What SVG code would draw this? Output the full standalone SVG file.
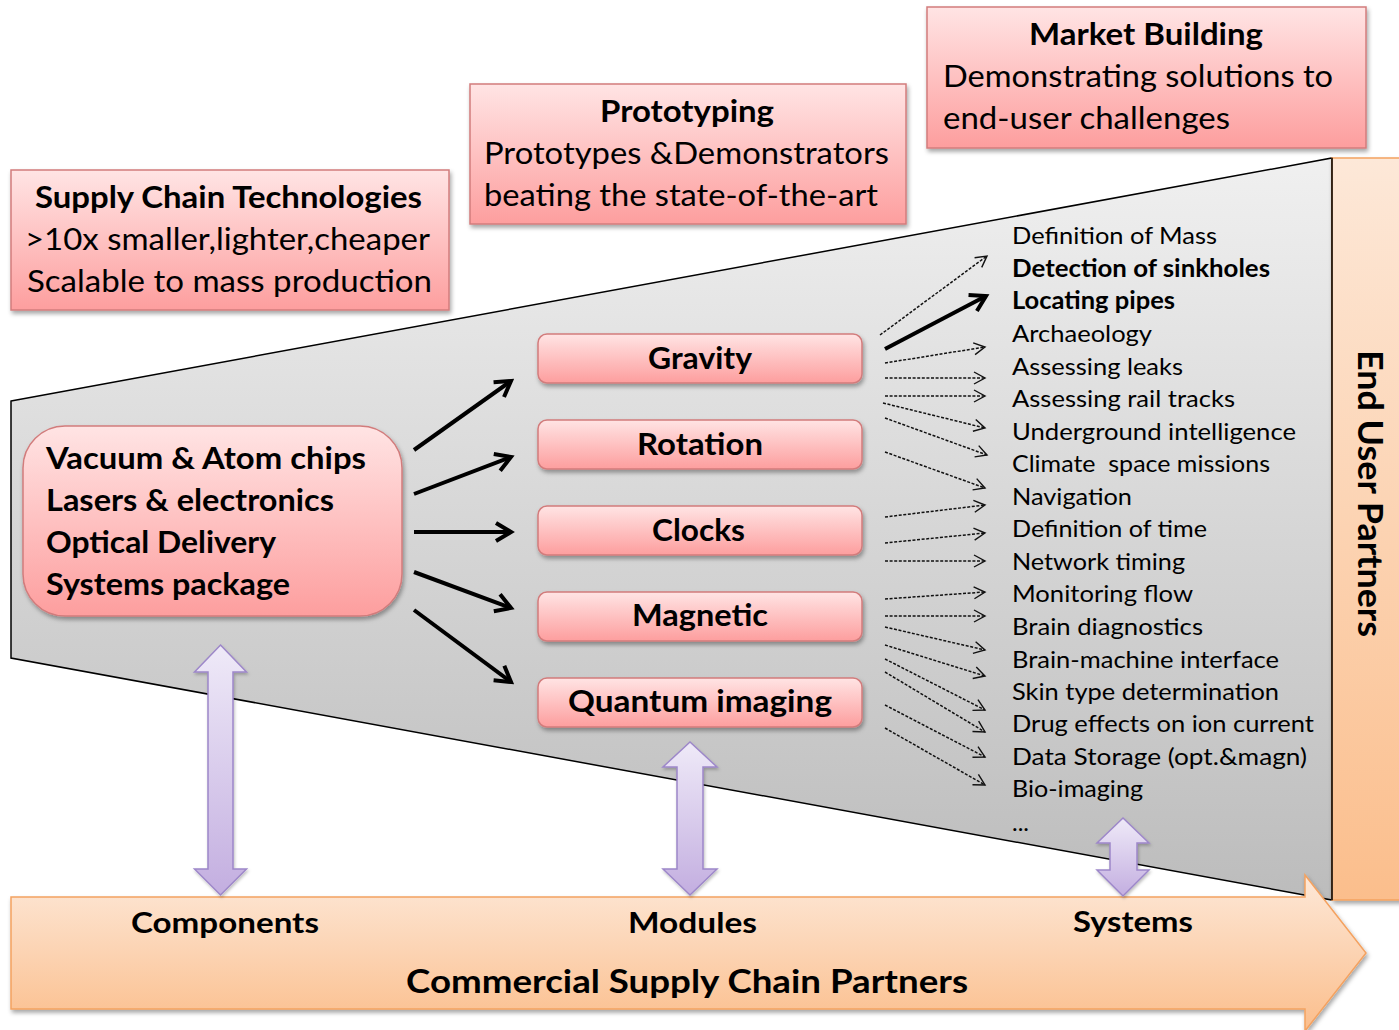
<svg xmlns="http://www.w3.org/2000/svg" width="1399" height="1030" viewBox="0 0 1399 1030">
<style>
text{font-family:Lato,"Liberation Sans",sans-serif;fill:#000}
.b{font-weight:bold}
.hd{font-size:31px}
.bx{font-size:31px;font-weight:bold}
.md{font-size:30px;font-weight:bold}
.li{font-size:24px}
.bt{font-size:28px;font-weight:bold}
.pink{fill:url(#gPink);stroke:#d27c7c;stroke-width:1.5;filter:url(#sh)}
.lav{fill:url(#gLav);stroke:#9d87c9;stroke-width:1.5;filter:url(#sh2)}
.sol{stroke:#000;stroke-width:4;fill:none;marker-end:url(#mSol)}
.dot{stroke:#111;stroke-width:1.5;stroke-dasharray:3 1.6;fill:none;marker-end:url(#mDot)}
</style>
<defs>
<linearGradient id="gGray" gradientUnits="userSpaceOnUse" x1="0" y1="158" x2="0" y2="900">
<stop offset="0" stop-color="#f0f0f0"/><stop offset="1" stop-color="#bcbcbc"/>
</linearGradient>
<linearGradient id="gPink" x1="0" y1="0" x2="0" y2="1">
<stop offset="0" stop-color="#ffe4e4"/><stop offset="1" stop-color="#fd9e9e"/>
</linearGradient>
<linearGradient id="gOr" x1="0" y1="0" x2="0" y2="1">
<stop offset="0" stop-color="#fde8d8"/><stop offset="1" stop-color="#fbbe8c"/>
</linearGradient>
<linearGradient id="gLav" x1="0" y1="0" x2="0" y2="1">
<stop offset="0" stop-color="#efeaf8"/><stop offset="1" stop-color="#c3aee0"/>
</linearGradient>
<filter id="sh" x="-10%" y="-10%" width="130%" height="140%">
<feDropShadow dx="1.5" dy="3" stdDeviation="2" flood-color="#000" flood-opacity="0.35"/>
</filter>
<filter id="sh2" x="-20%" y="-10%" width="150%" height="130%">
<feDropShadow dx="1" dy="2" stdDeviation="1.5" flood-color="#000" flood-opacity="0.25"/>
</filter>
<marker id="mSol" markerUnits="userSpaceOnUse" viewBox="-20 -12 24 24" markerWidth="24" markerHeight="24" refX="0" refY="0" orient="auto">
<path d="M-15,-9 L0,0 L-15,9" fill="none" stroke="#000" stroke-width="4" stroke-linejoin="miter"/>
</marker>
<marker id="mDot" markerUnits="userSpaceOnUse" viewBox="-14 -8 16 16" markerWidth="16" markerHeight="16" refX="0" refY="0" orient="auto">
<path d="M-11,-6 L0,0 L-11,6" fill="none" stroke="#111" stroke-width="1.4"/>
</marker>
</defs>

<g id="funnel">
<polygon points="11,401 1332,158 1332,900 11,658" fill="url(#gGray)" stroke="#000" stroke-width="1.5"/>
</g>

<g id="end-user-partners">
<rect x="1332" y="158" width="70" height="742" fill="url(#gOr)" stroke="#f4a260" stroke-width="1.5" filter="url(#sh)"/>
<line x1="1332" y1="158" x2="1332" y2="900" stroke="#000" stroke-width="1.5"/>
<text class="b" font-size="35" transform="translate(1358,350) rotate(90)" textLength="287" lengthAdjust="spacingAndGlyphs">End User Partners</text>
</g>

<g id="supply-chain-partners">
<path d="M11,897 L1305,897 L1305,875 L1366,953 L1305,1031 L1305,1009 L11,1009 Z" fill="url(#gOr)" stroke="#f4a260" stroke-width="1.5" filter="url(#sh)"/>
<text class="bt" x="131" y="933" textLength="188" lengthAdjust="spacingAndGlyphs">Components</text>
<text class="bt" x="628" y="933" textLength="129" lengthAdjust="spacingAndGlyphs">Modules</text>
<text class="bt" x="1073" y="932" textLength="120" lengthAdjust="spacingAndGlyphs">Systems</text>
<text class="b" font-size="33" x="406" y="993" textLength="562" lengthAdjust="spacingAndGlyphs">Commercial Supply Chain Partners</text>
</g>

<g id="supply-chain-tech">
<rect class="pink" x="11" y="170" width="438" height="140"/>
<text class="hd b" x="35" y="208" textLength="387" lengthAdjust="spacingAndGlyphs">Supply Chain Technologies</text>
<text class="hd" x="25" y="250" textLength="405" lengthAdjust="spacingAndGlyphs">&gt;10x smaller,lighter,cheaper</text>
<text class="hd" x="27" y="292" textLength="405" lengthAdjust="spacingAndGlyphs">Scalable to mass production</text>
</g>

<g id="prototyping">
<rect class="pink" x="470" y="84" width="436" height="140"/>
<text class="hd b" x="600" y="122" textLength="174" lengthAdjust="spacingAndGlyphs">Prototyping</text>
<text class="hd" x="484" y="164" textLength="405" lengthAdjust="spacingAndGlyphs">Prototypes &amp;Demonstrators</text>
<text class="hd" x="484" y="206" textLength="394" lengthAdjust="spacingAndGlyphs">beating the state-of-the-art</text>
</g>

<g id="market-building">
<rect class="pink" x="927" y="7" width="439" height="141"/>
<text class="hd b" x="1029" y="45" textLength="234" lengthAdjust="spacingAndGlyphs">Market Building</text>
<text class="hd" x="943" y="87" textLength="390" lengthAdjust="spacingAndGlyphs">Demonstrating solutions to</text>
<text class="hd" x="943" y="129" textLength="287" lengthAdjust="spacingAndGlyphs">end-user challenges</text>
</g>

<g id="components-box">
<rect class="pink" x="23" y="426" width="379" height="190" rx="42"/>
<text class="bx" x="46" y="469" textLength="320" lengthAdjust="spacingAndGlyphs">Vacuum &amp; Atom chips</text>
<text class="bx" x="46" y="511" textLength="288" lengthAdjust="spacingAndGlyphs">Lasers &amp; electronics</text>
<text class="bx" x="46" y="553" textLength="230" lengthAdjust="spacingAndGlyphs">Optical Delivery</text>
<text class="bx" x="46" y="595" textLength="244" lengthAdjust="spacingAndGlyphs">Systems package</text>
</g>

<g id="gravity">
<rect class="pink" x="538" y="334" width="324" height="49" rx="9"/>
<text class="md" x="648" y="369" textLength="104" lengthAdjust="spacingAndGlyphs">Gravity</text>
</g>
<g id="rotation">
<rect class="pink" x="538" y="420" width="324" height="49" rx="9"/>
<text class="md" x="637" y="455" textLength="126" lengthAdjust="spacingAndGlyphs">Rotation</text>
</g>
<g id="clocks">
<rect class="pink" x="538" y="506" width="324" height="49" rx="9"/>
<text class="md" x="652" y="541" textLength="93" lengthAdjust="spacingAndGlyphs">Clocks</text>
</g>
<g id="magnetic">
<rect class="pink" x="538" y="592" width="324" height="49" rx="9"/>
<text class="md" x="632" y="626" textLength="136" lengthAdjust="spacingAndGlyphs">Magnetic</text>
</g>
<g id="quantum-imaging">
<rect class="pink" x="538" y="678" width="324" height="49" rx="9"/>
<text class="md" x="568" y="712" textLength="264" lengthAdjust="spacingAndGlyphs">Quantum imaging</text>
</g>

<g id="applications">
<text class="li" x="1012" y="244" textLength="205" lengthAdjust="spacingAndGlyphs">Definition of Mass</text>
<text class="li b" x="1012" y="277" textLength="258" lengthAdjust="spacingAndGlyphs">Detection of sinkholes</text>
<text class="li b" x="1012" y="309" textLength="163" lengthAdjust="spacingAndGlyphs">Locating pipes</text>
<text class="li" x="1012" y="342" textLength="140" lengthAdjust="spacingAndGlyphs">Archaeology</text>
<text class="li" x="1012" y="375" textLength="171" lengthAdjust="spacingAndGlyphs">Assessing leaks</text>
<text class="li" x="1012" y="407" textLength="223" lengthAdjust="spacingAndGlyphs">Assessing rail tracks</text>
<text class="li" x="1012" y="440" textLength="284" lengthAdjust="spacingAndGlyphs">Underground intelligence</text>
<text class="li" x="1012" y="472" textLength="258" lengthAdjust="spacingAndGlyphs" xml:space="preserve">Climate  space missions</text>
<text class="li" x="1012" y="505" textLength="120" lengthAdjust="spacingAndGlyphs">Navigation</text>
<text class="li" x="1012" y="537" textLength="195" lengthAdjust="spacingAndGlyphs">Definition of time</text>
<text class="li" x="1012" y="570" textLength="173" lengthAdjust="spacingAndGlyphs">Network timing</text>
<text class="li" x="1012" y="602" textLength="181" lengthAdjust="spacingAndGlyphs">Monitoring flow</text>
<text class="li" x="1012" y="635" textLength="191" lengthAdjust="spacingAndGlyphs">Brain diagnostics</text>
<text class="li" x="1012" y="668" textLength="267" lengthAdjust="spacingAndGlyphs">Brain-machine interface</text>
<text class="li" x="1012" y="700" textLength="267" lengthAdjust="spacingAndGlyphs">Skin type determination</text>
<text class="li" x="1012" y="732" textLength="302" lengthAdjust="spacingAndGlyphs">Drug effects on ion current</text>
<text class="li" x="1012" y="765" textLength="295" lengthAdjust="spacingAndGlyphs">Data Storage (opt.&amp;magn)</text>
<text class="li" x="1012" y="797" textLength="131" lengthAdjust="spacingAndGlyphs">Bio-imaging</text>
<text class="li" x="1012" y="831">...</text>
</g>

<g id="connectors">
<line class="sol" x1="414" y1="450" x2="511" y2="381"/>
<line class="sol" x1="414" y1="494" x2="511" y2="457"/>
<line class="sol" x1="414" y1="532" x2="511" y2="532"/>
<line class="sol" x1="414" y1="572" x2="511" y2="608"/>
<line class="sol" x1="414" y1="610" x2="511" y2="682"/>

<line class="dot" x1="880" y1="335" x2="987" y2="256"/>
<line class="sol" x1="885" y1="349" x2="986" y2="296"/>
<line class="dot" x1="885" y1="363" x2="985" y2="347"/>
<line class="dot" x1="885" y1="378" x2="985" y2="378"/>
<line class="dot" x1="885" y1="396" x2="985" y2="396"/>
<line class="dot" x1="883" y1="403" x2="985" y2="428"/>
<line class="dot" x1="885" y1="418" x2="987" y2="455"/>
<line class="dot" x1="885" y1="452" x2="985" y2="488"/>
<line class="dot" x1="885" y1="517" x2="985" y2="505"/>
<line class="dot" x1="885" y1="543" x2="985" y2="533"/>
<line class="dot" x1="885" y1="561" x2="985" y2="561"/>
<line class="dot" x1="885" y1="599" x2="985" y2="592"/>
<line class="dot" x1="885" y1="616" x2="985" y2="616"/>
<line class="dot" x1="885" y1="627" x2="985" y2="650"/>
<line class="dot" x1="885" y1="645" x2="985" y2="676"/>
<line class="dot" x1="885" y1="659" x2="985" y2="710"/>
<line class="dot" x1="885" y1="672" x2="985" y2="732"/>
<line class="dot" x1="885" y1="705" x2="985" y2="757"/>
<line class="dot" x1="885" y1="728" x2="985" y2="785"/>
</g>

<g id="link-components">
<path class="lav" d="M220.5,645 L246.5,672 L233,672 L233,869 L246.5,869 L220.5,895 L194.5,869 L208,869 L208,672 L194.5,672 Z"/>
</g>
<g id="link-modules">
<path class="lav" d="M690,742 L717,767 L703,767 L703,869 L717,869 L690,895 L663,869 L677,869 L677,767 L663,767 Z"/>
</g>
<g id="link-systems">
<path class="lav" d="M1123,818 L1149,843 L1137,843 L1137,870 L1149,870 L1123,896 L1097,870 L1110,870 L1110,843 L1097,843 Z"/>
</g>
</svg>
